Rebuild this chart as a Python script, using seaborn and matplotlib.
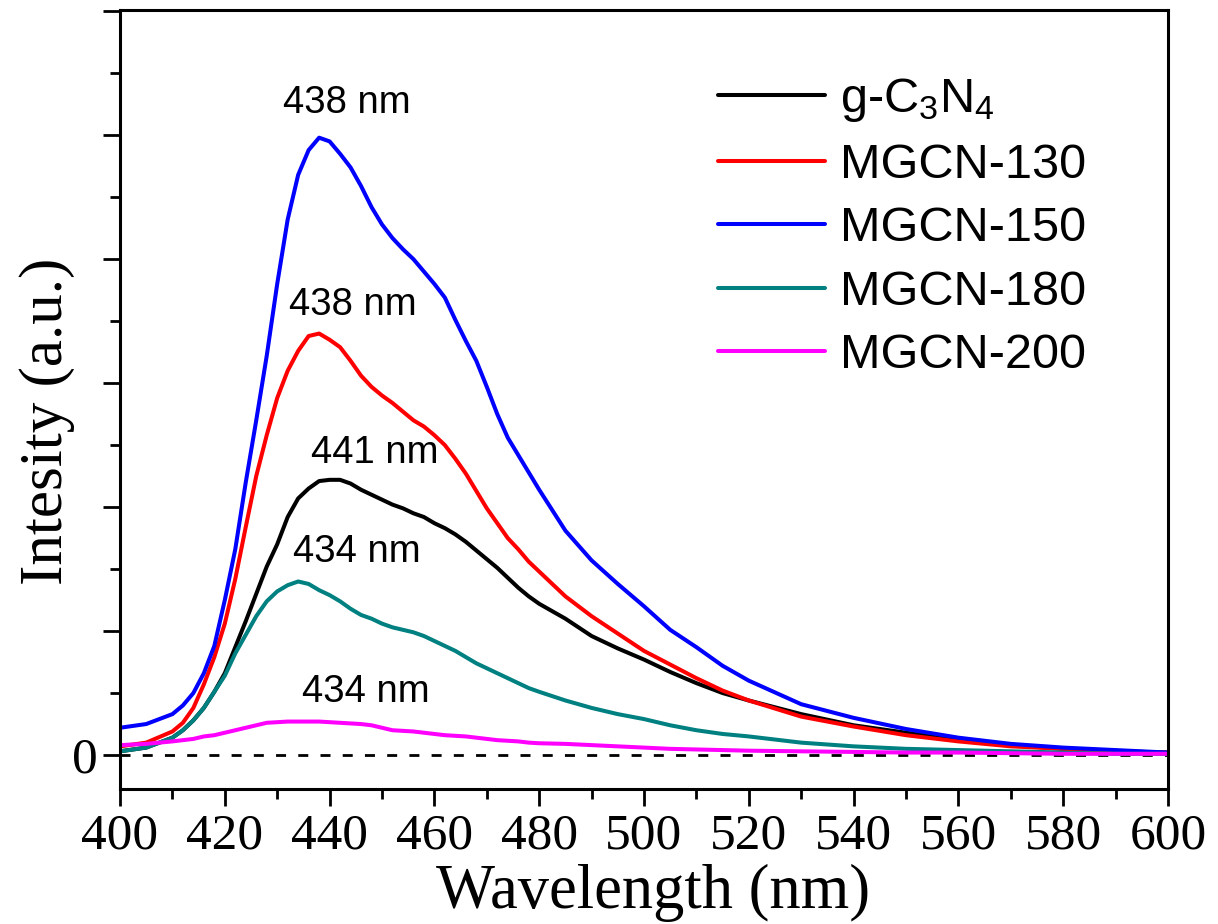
import numpy as np
import pandas as pd
import matplotlib
matplotlib.use("Agg")
import matplotlib.pyplot as plt
import seaborn as sns
from matplotlib.ticker import MultipleLocator, FixedLocator, FixedFormatter

# ---------------- data ----------------
wavelength = [400, 405, 410, 412, 414, 416, 418, 420, 422, 424, 426, 428, 430, 432, 434,
              436, 438, 440, 442, 444, 446, 448, 450, 452, 454, 456, 458, 460, 462, 464,
              466, 468, 470, 472, 474, 476, 478, 480, 485, 490, 495, 500, 505, 510, 515,
              520, 530, 540, 550, 560, 570, 580, 590, 600]

g_c3n4 = [0.03, 0.06, 0.14, 0.20, 0.28, 0.38, 0.51, 0.66, 0.87, 1.08, 1.30, 1.52, 1.70, 1.92, 2.07,
          2.15, 2.21, 2.22, 2.22, 2.19, 2.14, 2.10, 2.06, 2.02, 1.99, 1.95, 1.92, 1.87, 1.83, 1.78,
          1.72, 1.65, 1.58, 1.51, 1.43, 1.35, 1.28, 1.22, 1.10, 0.96, 0.86, 0.77, 0.67, 0.58, 0.50,
          0.44, 0.33, 0.24, 0.18, 0.12, 0.08, 0.05, 0.03, 0.02]

mgcn_130 = [0.07, 0.10, 0.19, 0.26, 0.38, 0.57, 0.79, 1.06, 1.42, 1.84, 2.25, 2.58, 2.88, 3.10, 3.26,
            3.38, 3.40, 3.35, 3.29, 3.18, 3.06, 2.97, 2.90, 2.84, 2.77, 2.70, 2.65, 2.58, 2.50, 2.39,
            2.27, 2.13, 1.99, 1.87, 1.75, 1.66, 1.56, 1.48, 1.28, 1.12, 0.98, 0.84, 0.73, 0.62, 0.52,
            0.44, 0.31, 0.23, 0.16, 0.11, 0.07, 0.05, 0.03, 0.02]

mgcn_150 = [0.22, 0.25, 0.33, 0.40, 0.50, 0.66, 0.88, 1.25, 1.66, 2.20, 2.70, 3.22, 3.80, 4.32, 4.68,
            4.88, 4.98, 4.95, 4.85, 4.74, 4.59, 4.42, 4.28, 4.17, 4.08, 4.00, 3.90, 3.80, 3.69, 3.51,
            3.34, 3.18, 2.97, 2.75, 2.56, 2.42, 2.28, 2.14, 1.81, 1.57, 1.38, 1.20, 1.01, 0.87, 0.72,
            0.60, 0.41, 0.30, 0.21, 0.14, 0.09, 0.06, 0.04, 0.02]

mgcn_180 = [0.03, 0.06, 0.14, 0.20, 0.28, 0.38, 0.51, 0.64, 0.82, 0.97, 1.12, 1.24, 1.32, 1.37, 1.40,
            1.38, 1.33, 1.29, 1.24, 1.18, 1.13, 1.10, 1.06, 1.03, 1.01, 0.99, 0.96, 0.92, 0.88, 0.84,
            0.79, 0.74, 0.70, 0.66, 0.62, 0.58, 0.54, 0.51, 0.44, 0.38, 0.33, 0.29, 0.24, 0.20, 0.17,
            0.15, 0.10, 0.07, 0.05, 0.04, 0.03, 0.02, 0.01, 0.01]

mgcn_200 = [0.08, 0.09, 0.11, 0.12, 0.13, 0.15, 0.16, 0.18, 0.20, 0.22, 0.24, 0.26, 0.265, 0.27, 0.27,
            0.27, 0.27, 0.265, 0.26, 0.255, 0.25, 0.24, 0.22, 0.20, 0.195, 0.19, 0.18, 0.17, 0.16, 0.155,
            0.15, 0.14, 0.13, 0.12, 0.115, 0.11, 0.10, 0.095, 0.09, 0.08, 0.07, 0.06, 0.05, 0.045, 0.04,
            0.035, 0.03, 0.025, 0.02, 0.02, 0.015, 0.01, 0.01, 0.01]

series_labels = [r"g-C$_3$N$_4$", "MGCN-130", "MGCN-150", "MGCN-180", "MGCN-200"]
series_values = [g_c3n4, mgcn_130, mgcn_150, mgcn_180, mgcn_200]
series_colors = ["#000000", "#ff0000", "#0000ff", "#008080", "#ff00ff"]

peak_labels = ["438 nm", "438 nm", "441 nm", "434 nm", "434 nm"]
peak_label_x = [443.3, 444.5, 448.7, 445.2, 447.0]
peak_label_y = [5.26, 3.63, 2.44, 1.64, 0.51]

x_ticks = [400, 420, 440, 460, 480, 500, 520, 540, 560, 580, 600]
y_major = [0, 1, 2, 3, 4, 5, 6]
y_tick_labels = ["0", "", "", "", "", "", ""]

# ---------------- styling ----------------
sns.set_theme(style="ticks")
plt.rcParams["font.family"] = ["Liberation Sans", "DejaVu Sans"]
plt.rcParams["mathtext.fontset"] = "custom"
plt.rcParams["mathtext.rm"] = "Liberation Sans"
plt.rcParams["mathtext.default"] = "regular"
for key in ["text.color", "axes.labelcolor", "xtick.color", "ytick.color", "axes.edgecolor"]:
    plt.rcParams[key] = "black"

fig = plt.figure(figsize=(12.18, 9.24), dpi=100)
ax = fig.add_axes([120 / 1218, 1 - 789 / 924, 1048 / 1218, 779 / 924])

for lab, vals, col in zip(series_labels, series_values, series_colors):
    sns.lineplot(x=wavelength, y=vals, ax=ax, color=col, linewidth=2.9, label=lab)

ax.axhline(0, color="black", linewidth=2.0, linestyle=(0, (3.6, 4.4)), zorder=1)

for t, xx, yy in zip(peak_labels, peak_label_x, peak_label_y):
    ax.text(xx, yy, t, ha="center", va="center", fontsize=27.5, color="black",
            family=["Liberation Sans", "DejaVu Sans"])

ax.set_xlim(400, 600)
ax.set_ylim(-0.274, 6.01)
ax.xaxis.set_major_locator(FixedLocator(x_ticks))
ax.xaxis.set_minor_locator(MultipleLocator(10))
ax.yaxis.set_major_locator(FixedLocator(y_major))
ax.yaxis.set_major_formatter(FixedFormatter(y_tick_labels))
ax.yaxis.set_minor_locator(MultipleLocator(0.5))

serif = ["Liberation Serif", "DejaVu Serif"]
ax.tick_params(axis="both", which="major", direction="out", length=12, width=2.0,
               labelsize=37, colors="black")
ax.tick_params(axis="x", which="major", pad=5)
ax.tick_params(axis="y", which="major", pad=4)
ax.tick_params(axis="both", which="minor", direction="out", length=7.5, width=2.0,
               colors="black")
for lbl in ax.get_xticklabels() + ax.get_yticklabels():
    lbl.set_family(serif)

for sp in ax.spines.values():
    sp.set_linewidth(2.2)
    sp.set_color("black")
    sp.set_visible(True)

ax.set_xlabel("Wavelength (nm)", fontsize=45, family=serif)
ax.set_ylabel("Intesity (a.u.)", fontsize=44, family=serif)
ax.xaxis.set_label_coords(0.509, -0.096)
ax.yaxis.set_label_coords(-0.043, 0.472)

leg = ax.legend(loc="upper left", bbox_to_anchor=(0.571, 0.915), frameon=False,
                fontsize=35, handlelength=2.2, handletextpad=0.3, labelspacing=0.38,
                borderpad=0, borderaxespad=0)
for h in leg.get_lines():
    h.set_linewidth(2.9)

fig.savefig("out.png", dpi=100)
